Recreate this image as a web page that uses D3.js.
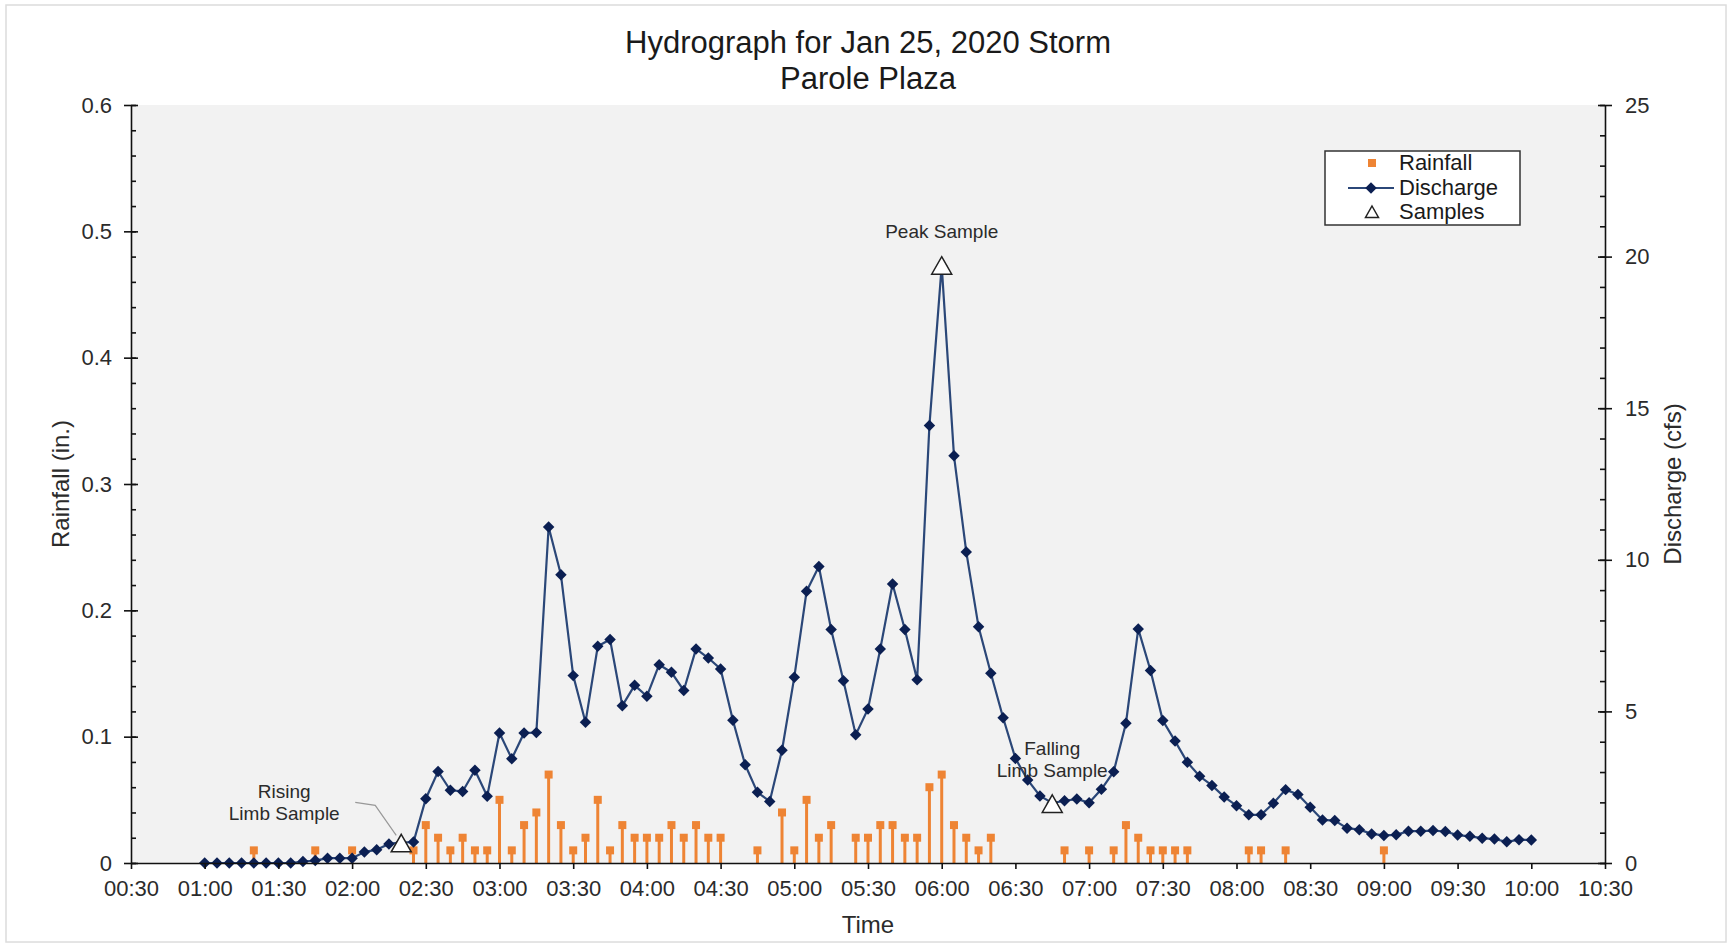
<!DOCTYPE html>
<html>
<head>
<meta charset="utf-8">
<script src="https://cdn.jsdelivr.net/npm/d3@7"></script>
<style>
  body { margin: 0; background: #fff; }
  svg text { font-family: "Liberation Sans", Arial, sans-serif; }
</style>
</head>
<body>
<svg id="chart" width="1730" height="944"></svg>
<script>
// discharge (cfs), one value every 5 minutes starting at 01:00
var dischargeStart = "01:00";
var discharge = [
    0, 0, 0, 0, 0, 0, 0, 0, 0.05, 0.08, 0.16, 0.16,
    0.16, 0.36, 0.44, 0.63, 0.68, 0.69, 2.12, 3.02, 2.40, 2.36, 3.06, 2.20,
    4.29, 3.44, 4.29, 4.30, 11.08, 9.51, 6.18, 4.64, 7.15, 7.37, 5.19, 5.86,
    5.50, 6.54, 6.29, 5.69, 7.06, 6.76, 6.40, 4.71, 3.24, 2.33, 2.03, 3.72,
    6.13, 8.96, 9.78, 7.70, 6.01, 4.23, 5.08, 7.06, 9.20, 7.70, 6.04, 14.43,
    19.70, 13.43, 10.26, 7.79, 6.26, 4.79, 3.45, 2.74, 2.21, 1.98, 2.05, 2.11,
    1.99, 2.43, 3.01, 4.61, 7.72, 6.35, 4.70, 4.02, 3.32, 2.86, 2.56, 2.18,
    1.89, 1.59, 1.59, 1.97, 2.42, 2.26, 1.84, 1.42, 1.40, 1.15, 1.10, 0.96,
    0.91, 0.93, 1.05, 1.05, 1.07, 1.04, 0.92, 0.88, 0.82, 0.79, 0.70, 0.77,
    0.76
];

// rainfall (in.) per 5 minute interval, only the intervals with rain
var rainTimes = [
    "01:20", "01:45", "02:00", "02:25", "02:30", "02:35", "02:40", "02:45", "02:50", "02:55",
    "03:00", "03:05", "03:10", "03:15", "03:20", "03:25", "03:30", "03:35", "03:40", "03:45",
    "03:50", "03:55", "04:00", "04:05", "04:10", "04:15", "04:20", "04:25", "04:30", "04:45",
    "04:55", "05:00", "05:05", "05:10", "05:15", "05:25", "05:30", "05:35", "05:40", "05:45",
    "05:50", "05:55", "06:00", "06:05", "06:10", "06:15", "06:20", "06:50", "07:00", "07:10",
    "07:15", "07:20", "07:25", "07:30", "07:35", "07:40", "08:05", "08:10", "08:20", "09:00"
];
var rainValues = [
    0.01, 0.01, 0.01, 0.01, 0.03, 0.02, 0.01, 0.02, 0.01, 0.01,
    0.05, 0.01, 0.03, 0.04, 0.07, 0.03, 0.01, 0.02, 0.05, 0.01,
    0.03, 0.02, 0.02, 0.02, 0.03, 0.02, 0.03, 0.02, 0.02, 0.01,
    0.04, 0.01, 0.05, 0.02, 0.03, 0.02, 0.02, 0.03, 0.03, 0.02,
    0.02, 0.06, 0.07, 0.03, 0.02, 0.01, 0.02, 0.01, 0.01, 0.01,
    0.03, 0.02, 0.01, 0.01, 0.01, 0.01, 0.01, 0.01, 0.01, 0.01
];

// water quality samples (plotted on the discharge axis)
var sampleTimes = ["02:20", "06:00", "06:45"];
var sampleValues = [0.65, 19.7, 1.95];
var sampleLabels = [["Rising", "Limb Sample"], ["Peak Sample"], ["Falling", "Limb Sample"]];

var timeTicks = ["00:30", "01:00", "01:30", "02:00", "02:30", "03:00", "03:30", "04:00", "04:30",
    "05:00", "05:30", "06:00", "06:30", "07:00", "07:30", "08:00", "08:30", "09:00", "09:30",
    "10:00", "10:30"];
var rainTicks = [0, 0.1, 0.2, 0.3, 0.4, 0.5, 0.6];
var dischargeTicks = [0, 5, 10, 15, 20, 25];

(function () {
    'use strict';

    function toMin(s) {
        var p = s.split(":");
        return +p[0] * 60 + +p[1];
    }
    function fmtMin(m) {
        return d3.format("02d")(Math.floor(m / 60)) + ":" + d3.format("02d")(m % 60);
    }

    var svg = d3.select("#chart");
    var pLeft = 131, pRight = 1605, pTop = 105, pBottom = 863;
    var orange = "#EE8434", navy = "#0B1F52", lineCol = "#2B4778", txt = "#2b2b2b";

    // outer frame
    svg.append("rect")
        .attr("x", 6).attr("y", 5).attr("width", 1720).attr("height", 937)
        .attr("fill", "#fff").attr("stroke", "#dcdcdc").attr("stroke-width", 1.5);

    var x = d3.scaleLinear()
        .domain([toMin(timeTicks[0]), toMin(timeTicks[timeTicks.length - 1])])
        .range([pLeft, pRight]);
    var yR = d3.scaleLinear().domain([0, 0.6]).range([pBottom, pTop]);
    var yQ = d3.scaleLinear().domain([0, 25]).range([pBottom, pTop]);

    svg.append("rect")
        .attr("x", pLeft).attr("y", pTop)
        .attr("width", pRight - pLeft).attr("height", pBottom - pTop)
        .attr("fill", "#f2f2f2");

    // rainfall stems
    var rain = rainTimes.map(function (t, i) { return {t: toMin(t), v: rainValues[i]}; });
    svg.append("g").selectAll("line")
        .data(rain).enter().append("line")
        .attr("x1", function (d) { return x(d.t); })
        .attr("x2", function (d) { return x(d.t); })
        .attr("y1", yR(0))
        .attr("y2", function (d) { return yR(d.v); })
        .attr("stroke", orange).attr("stroke-width", 3);
    svg.append("g").selectAll("rect")
        .data(rain).enter().append("rect")
        .attr("x", function (d) { return x(d.t) - 4; })
        .attr("y", function (d) { return yR(d.v) - 4; })
        .attr("width", 8).attr("height", 8)
        .attr("fill", orange);

    // discharge line + diamonds
    var t0 = toMin(dischargeStart);
    var flow = discharge.map(function (v, i) { return {t: t0 + i * 5, v: v}; });
    var line = d3.line()
        .x(function (d) { return x(d.t); })
        .y(function (d) { return yQ(d.v); });
    svg.append("path")
        .datum(flow)
        .attr("d", line)
        .attr("fill", "none").attr("stroke", lineCol).attr("stroke-width", 2.2);
    var diamond = d3.symbol().type(d3.symbolSquare).size(66);
    svg.append("g").selectAll("path")
        .data(flow).enter().append("path")
        .attr("d", diamond)
        .attr("transform", function (d) { return "translate(" + x(d.t) + "," + yQ(d.v) + ") rotate(45)"; })
        .attr("fill", navy);

    // axes
    function styleAxis(g, size) {
        g.selectAll("path.domain").attr("stroke", "#111").attr("stroke-width", 1.6);
        g.selectAll(".tick line").attr("stroke", "#111").attr("stroke-width", 1.6);
        g.selectAll("text").attr("font-size", size).attr("fill", txt)
            .attr("font-family", "Liberation Sans, Arial, sans-serif");
    }

    var gx = svg.append("g").attr("transform", "translate(0," + pBottom + ")")
        .call(d3.axisBottom(x).tickValues(timeTicks.map(toMin))
            .tickFormat(fmtMin).tickSize(6).tickSizeOuter(0).tickPadding(11));
    styleAxis(gx, 22);

    var gl = svg.append("g").attr("transform", "translate(" + pLeft + ",0)")
        .call(d3.axisLeft(yR).tickValues(rainTicks)
            .tickFormat(function (d) { return d === 0 ? "0" : d3.format(".1f")(d); })
            .tickSizeInner(7).tickSizeOuter(0).tickPadding(12));
    styleAxis(gl, 22);
    var gl2 = svg.append("g").attr("transform", "translate(" + pLeft + ",0)")
        .call(d3.axisRight(yR).tickValues(d3.range(31).map(function (i) { return i * 0.02; }))
            .tickFormat("").tickSize(5));
    gl2.select(".domain").remove();
    styleAxis(gl2, 0);
    var gl3 = svg.append("g").attr("transform", "translate(" + pLeft + ",0)")
        .call(d3.axisRight(yR).tickValues(rainTicks).tickFormat("").tickSize(7));
    gl3.select(".domain").remove();
    styleAxis(gl3, 0);

    var gr = svg.append("g").attr("transform", "translate(" + pRight + ",0)")
        .call(d3.axisRight(yQ).tickValues(dischargeTicks)
            .tickSizeInner(7).tickSizeOuter(0).tickPadding(13));
    styleAxis(gr, 22);
    var gr2 = svg.append("g").attr("transform", "translate(" + pRight + ",0)")
        .call(d3.axisLeft(yQ).tickValues(d3.range(26)).tickFormat("").tickSize(5));
    gr2.select(".domain").remove();
    styleAxis(gr2, 0);
    var gr3 = svg.append("g").attr("transform", "translate(" + pRight + ",0)")
        .call(d3.axisLeft(yQ).tickValues(dischargeTicks).tickFormat("").tickSize(7));
    gr3.select(".domain").remove();
    styleAxis(gr3, 0);

    // samples: hollow triangles
    var samples = sampleTimes.map(function (t, i) {
        return {t: toMin(t), v: sampleValues[i], label: sampleLabels[i]};
    });
    svg.append("g").selectAll("path")
        .data(samples).enter().append("path")
        .attr("d", "M0,-9L10,8.5L-10,8.5Z")
        .attr("transform", function (d) { return "translate(" + x(d.t) + "," + yQ(d.v) + ")"; })
        .attr("fill", "#fff").attr("stroke", "#222").attr("stroke-width", 1.5);

    // sample annotations
    var labelOffsets = [
        {dx: -117, dy: -45},
        {dx: 0, dy: -28},
        {dx: 0, dy: -49}
    ];
    samples.forEach(function (s, i) {
        var px = x(s.t), py = yQ(s.v), o = labelOffsets[i];
        var t = svg.append("text")
            .attr("text-anchor", "middle")
            .attr("font-size", 19).attr("fill", txt);
        s.label.forEach(function (l, j) {
            t.append("tspan").attr("x", px + o.dx).attr("y", py + o.dy + j * 22).text(l);
        });
        if (i === 0) {
            svg.append("path")
                .attr("d", "M" + (px - 46) + "," + (py - 41) + "L" + (px - 26) + "," + (py - 38) +
                    "L" + (px - 5) + "," + (py - 8))
                .attr("fill", "none").attr("stroke", "#999").attr("stroke-width", 1.2);
        }
    });

    // titles
    svg.append("text").attr("x", 868).attr("y", 53).attr("text-anchor", "middle")
        .attr("font-size", 31).attr("fill", "#1a1a1a").text("Hydrograph for Jan 25, 2020 Storm");
    svg.append("text").attr("x", 868).attr("y", 89).attr("text-anchor", "middle")
        .attr("font-size", 31).attr("fill", "#1a1a1a").text("Parole Plaza");
    svg.append("text").attr("x", 868).attr("y", 933).attr("text-anchor", "middle")
        .attr("font-size", 24).attr("fill", txt).text("Time");
    svg.append("text").attr("transform", "translate(69,484) rotate(-90)")
        .attr("text-anchor", "middle").attr("font-size", 24).attr("fill", txt).text("Rainfall (in.)");
    svg.append("text").attr("transform", "translate(1681,484) rotate(-90)")
        .attr("text-anchor", "middle").attr("font-size", 24).attr("fill", txt).text("Discharge (cfs)");

    // legend
    var lg = svg.append("g");
    lg.append("rect").attr("x", 1325).attr("y", 151).attr("width", 195).attr("height", 74)
        .attr("fill", "#fff").attr("stroke", "#333").attr("stroke-width", 1.5);
    lg.append("rect").attr("x", 1368).attr("y", 159).attr("width", 8).attr("height", 8).attr("fill", orange);
    lg.append("line").attr("x1", 1348).attr("x2", 1394).attr("y1", 188).attr("y2", 188)
        .attr("stroke", lineCol).attr("stroke-width", 2.2);
    lg.append("path").attr("d", diamond).attr("transform", "translate(1371,188) rotate(45)").attr("fill", navy);
    lg.append("path").attr("d", "M0,-6L6.5,5.5L-6.5,5.5Z").attr("transform", "translate(1372,212)")
        .attr("fill", "#fff").attr("stroke", "#222").attr("stroke-width", 1.5);
    ["Rainfall", "Discharge", "Samples"].forEach(function (n, i) {
        lg.append("text").attr("x", 1399).attr("y", 170 + i * 24.5)
            .attr("font-size", 22).attr("fill", "#1a1a1a").text(n);
    });
}());
</script>
</body>
</html>
